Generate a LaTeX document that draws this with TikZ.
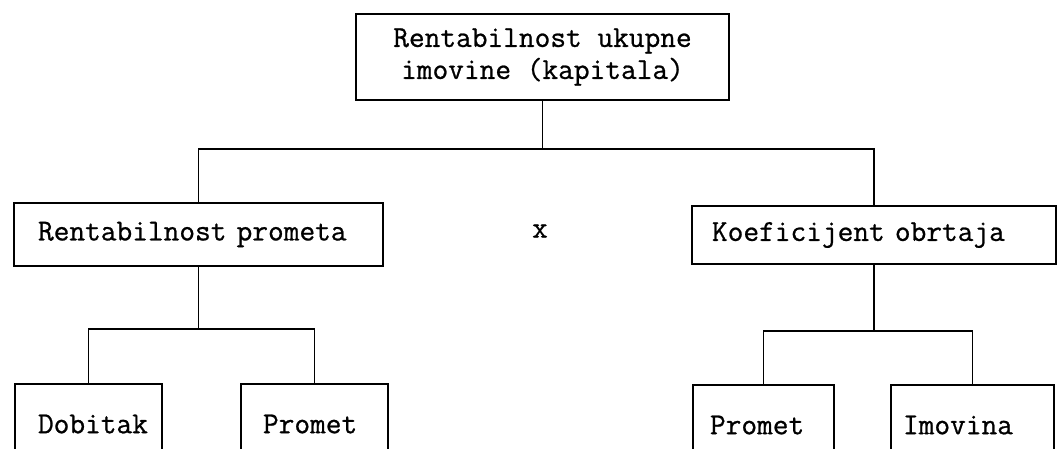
\documentclass[tikz,border=0pt]{standalone}
\usepackage{fontspec}
\setmonofont{Latin Modern Mono}[FakeBold=0.8]
\begin{document}
\begin{tikzpicture}[x=1pt,y=-1pt, line width=1.7pt,
  box/.style={draw, inner sep=0pt, align=left, font=\fontsize{30.5}{32}\selectfont\ttfamily},
  link/.style={line cap=rect}]
\clip (0,0) rectangle (1057,449);
\fill[white] (0,0) rectangle (1057,449);
\node[box, minimum width=373pt, minimum height=86pt, align=center] (top) at (542.5,57) {Rentabilnost ukupne\\imovine (kapitala)};
\node[box, text width=369pt, minimum height=63pt] (rp) at (198.5,234.5) {\hspace*{24pt}\mbox{Rentabilnost prometa}};
\node[box, text width=364pt, minimum height=58pt] (ko) at (874,235) {\hspace*{20pt}\mbox{Koeficijent obrtaja}};
\node[font=\fontsize{30.5}{32}\selectfont\ttfamily, inner sep=0pt] (times) at (540,231) {x};
\node[box, text width=147pt, minimum height=80pt] (dob) at (88.5,424) {\hspace*{23pt}Dobitak};
\node[box, text width=147pt, minimum height=80pt] (pr1) at (314.5,424) {\hspace*{22pt}Promet};
\node[box, text width=141pt, minimum height=80pt] (pr2) at (763.5,425) {\hspace*{17pt}Promet};
\node[box, text width=163pt, minimum height=80pt] (imo) at (972.5,425) {\hspace*{12pt}Imovina};
\coordinate (bar) at (0,149);
\coordinate (barL) at (0,329);
\coordinate (barR) at (0,331);
\draw[link] (top.south) -- (top.south |- bar);
\draw[link] (rp.north) |- (bar -| ko.north) -- (ko.north);
\draw[link] (rp.south) -- (rp.south |- barL);
\draw[link] (dob.north) |- (barL -| pr1.north) -- (pr1.north);
\draw[link] (ko.south) -- (ko.south |- barR);
\draw[link] (pr2.north) |- (barR -| imo.north) -- (imo.north);
\end{tikzpicture}
\end{document}
